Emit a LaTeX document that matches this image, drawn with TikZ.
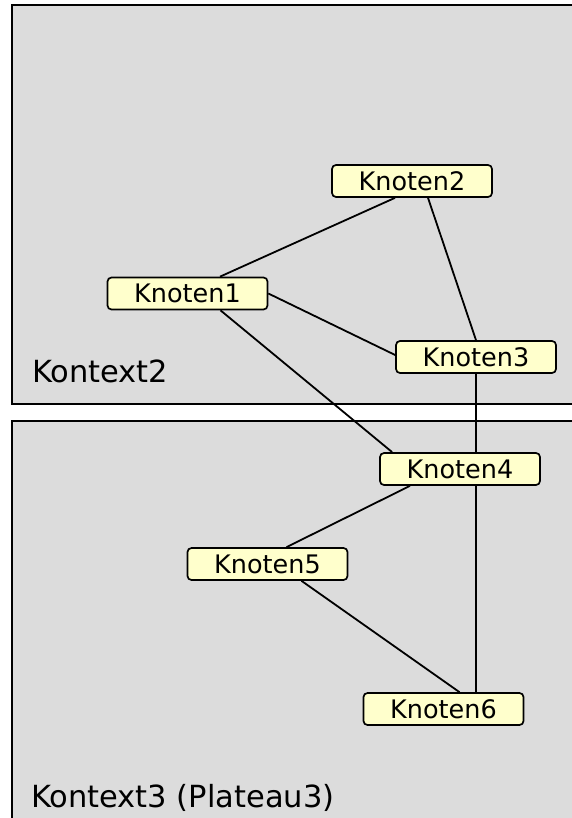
\documentclass[tikz,border=0pt]{standalone}
\usepackage{fontspec}
\setmainfont{DejaVu Sans}
\usetikzlibrary{calc}
\definecolor{ctxgray}{RGB}{220,220,220}
\definecolor{nodeyellow}{RGB}{255,255,204}
\tikzset{
  ctxbox/.style={draw=black, line width=2.2pt, fill=ctxgray},
  knoten/.style={draw=black, line width=1.7pt, fill=nodeyellow, rounded corners=4pt,
    minimum width=160pt, minimum height=32pt, inner sep=0pt,
    font=\fontsize{25.5}{29}\selectfont},
  ctxlabel/.style={anchor=base west, inner sep=0pt, font=\fontsize{30.5}{34}\selectfont},
  edge/.style={draw=black, line width=1.8pt}
}
\begin{document}
\begin{tikzpicture}[x=1pt, y=-1pt]
\useasboundingbox (0,0) rectangle (572,818);
\clip (0,0) rectangle (572,818);
% contexts
\draw[ctxbox] (12,5) rectangle (590,404);
\draw[ctxbox] (12,421) rectangle (590,840);
\node[ctxlabel] (c2) at (32,382) {Kontext2};
\node[ctxlabel] (c3) at (31,807) {Kontext3 (Plateau3)};
% nodes
\node[knoten] (k2) at (412,181) {Knoten2};
\node[knoten] (k1) at (187.5,293.5) {Knoten1};
\node[knoten] (k3) at (476,357) {Knoten3};
\node[knoten] (k4) at (460,469) {Knoten4};
\node[knoten] (k5) at (267.5,564) {Knoten5};
\node[knoten] (k6) at (443.5,709) {Knoten6};
% edges
\draw[edge] ($(k1.north)+(32.5,0)$) -- ($(k2.south)+(-17,0)$);
\draw[edge] ($(k2.south)+(16,0)$) -- (k3.north);
\draw[edge] (k1.east) -- ($(k3.west)+(0,-2)$);
\draw[edge] ($(k1.south)+(33,0)$) -- ($(k4.north west)+(13,0)$);
\draw[edge] ($(k4.north)+(16,0)$) -- (k3.south);
\draw[edge] ($(k4.south)+(-50,0)$) -- ($(k5.north)+(19,0)$);
\draw[edge] ($(k5.south)+(34,0)$) -- ($(k6.north)+(16,0)$);
\draw[edge] ($(k4.south)+(16,0)$) -- ($(k6.north)+(32.5,0)$);
\end{tikzpicture}
\end{document}
